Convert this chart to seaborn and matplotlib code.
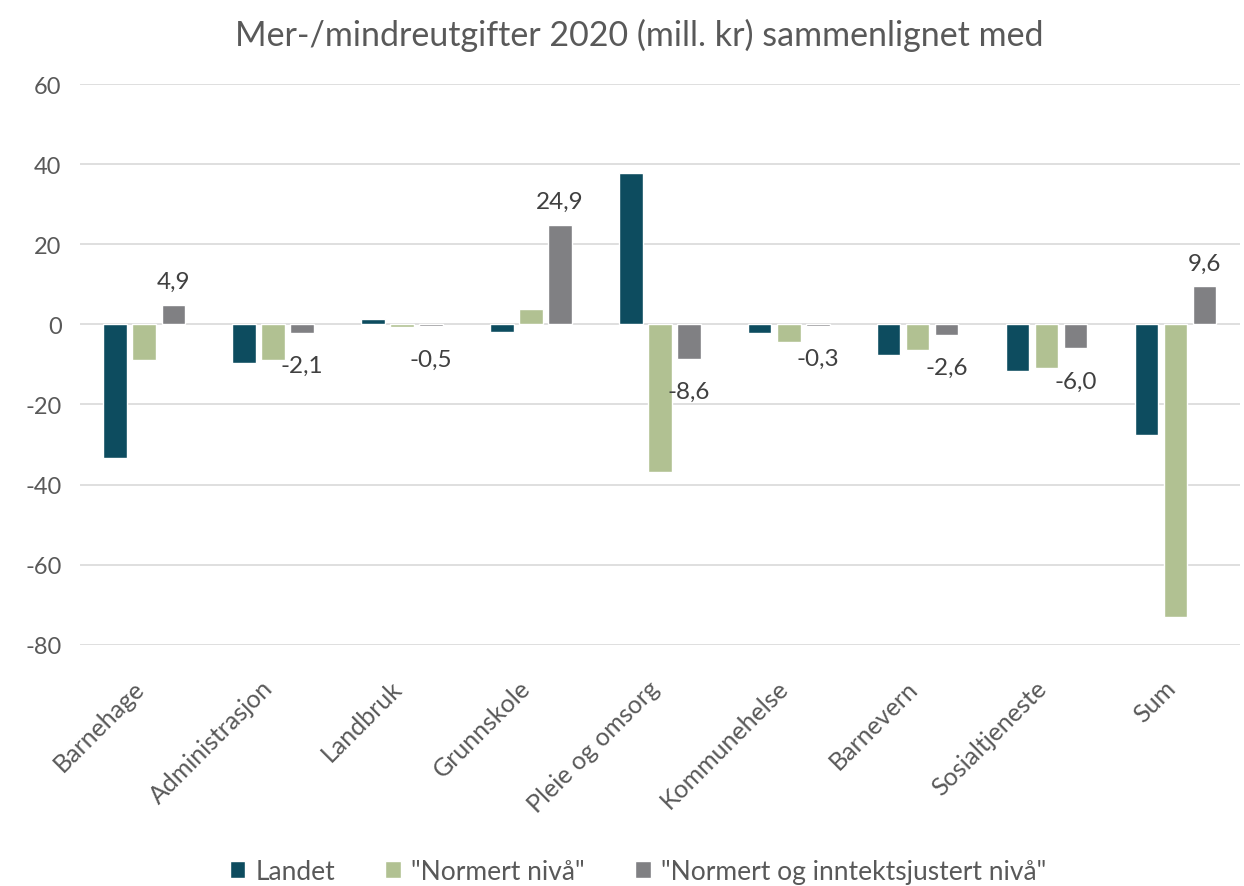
import pandas as pd
import matplotlib.pyplot as plt
import matplotlib.transforms as mtransforms
import seaborn as sns

categories = ["Barnehage", "Administrasjon", "Landbruk", "Grunnskole", "Pleie og omsorg",
              "Kommunehelse", "Barnevern", "Sosialtjeneste", "Sum"]
series = ["Landet", "\"Normert nivå\"", "\"Normert og inntektsjustert nivå\""]
landet = [-33.3, -9.7, 1.3, -1.9, 37.7, -2.2, -7.6, -11.7, -27.5]
normert = [-9.0, -9.0, -0.7, 3.8, -36.9, -4.3, -6.4, -10.9, -73.0]
inntekt = [4.9, -2.1, -0.5, 24.9, -8.6, -0.3, -2.6, -6.0, 9.6]
colors = ["#00546C", "#B3C98A", "#7F7F84"]

rows = []
for name, vals in zip(series, [landet, normert, inntekt]):
    for cat, v in zip(categories, vals):
        rows.append({"kategori": cat, "serie": name, "verdi": v})
df = pd.DataFrame(rows)

sns.set_style("white")
plt.rcParams["font.family"] = ["Lato", "DejaVu Sans"]
plt.rcParams["axes.unicode_minus"] = False

fig = plt.figure(figsize=(12.44, 8.87), dpi=100)
ax = fig.add_axes([0.064, 0.272, 0.933, 0.632])

sns.barplot(data=df, x="kategori", y="verdi", hue="serie", palette=colors,
            width=0.675, gap=0.2, ax=ax, zorder=3)

ax.set_ylim(-80, 60)
ax.set_yticks(range(-80, 61, 20))
ax.yaxis.grid(True, color="#D9D9D9", linewidth=1.2, zorder=0)
ax.set_xlabel("")
ax.set_ylabel("")
for s in ax.spines.values():
    s.set_visible(False)
ax.tick_params(axis="y", labelsize=17, colors="#595959", length=0, pad=13)
ax.tick_params(axis="x", labelsize=18, colors="#595959", length=0, pad=10)
shift = mtransforms.ScaledTranslation(-0.12, -0.17, fig.dpi_scale_trans)
for lbl in ax.get_xticklabels():
    lbl.set_rotation(45)
    lbl.set_ha("right")
    lbl.set_rotation_mode("anchor")
    lbl.set_transform(lbl.get_transform() + shift)

# data labels only on the last series, negatives sit a bit further from the bar
fmt = lambda v: f"{v:.1f}".replace(".", ",")
ax.bar_label(ax.containers[2], labels=[fmt(v) if v > 0 else "" for v in inntekt],
             padding=9, fontsize=17.5, color="#404040")
ax.bar_label(ax.containers[2], labels=[fmt(v) if v < 0 else "" for v in inntekt],
             padding=16, fontsize=17.5, color="#404040")

ax.set_title("Mer-/mindreutgifter 2020 (mill. kr) sammenlignet med", fontsize=24.5,
             color="#595959", x=0.482, y=1.0, pad=28)

leg = ax.legend(loc="center", bbox_to_anchor=(0.481, -0.404), ncol=3, frameon=False,
                fontsize=19, handlelength=0.6, handleheight=0.6, columnspacing=1.9,
                handletextpad=0.38)
for t in leg.get_texts():
    t.set_color("#595959")

fig.savefig("out.png", dpi=100)
